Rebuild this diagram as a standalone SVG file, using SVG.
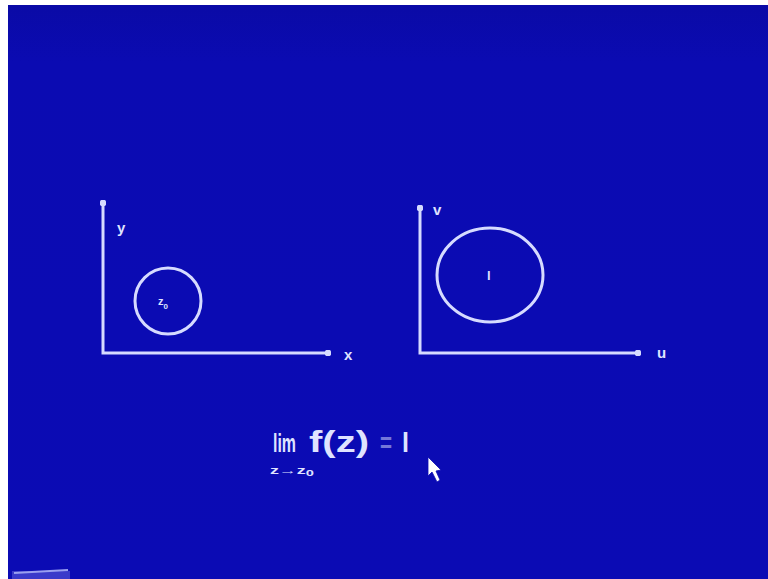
<svg xmlns="http://www.w3.org/2000/svg" width="768" height="579" viewBox="0 0 768 579">
<defs>
<style>
.ax{stroke:#d6dbff;stroke-width:3;fill:none;stroke-linecap:round}
.rg{stroke:#d6dbff;stroke-width:3;fill:none}
.lb{font-family:"Liberation Sans",Arial,sans-serif;font-weight:bold;fill:#dfe3ff}
</style>
<marker id="dot" viewBox="0 0 10 10" refX="5" refY="5" markerWidth="2.2" markerHeight="2.2" orient="auto"><circle cx="5" cy="5" r="5" fill="#d6dbff"/></marker>
<linearGradient id="bg" x1="0" y1="0" x2="0" y2="1"><stop offset="0" stop-color="#0a0aa6"/><stop offset="0.1" stop-color="#0b0bb2"/><stop offset="1" stop-color="#0b0bb4"/></linearGradient>
</defs>
<rect width="768" height="579" fill="#ffffff"/>
<rect x="8" y="5" width="760" height="574" fill="url(#bg)"/>
<g id="connectors">
<polyline class="ax" points="103,203 103,353 328,353" marker-start="url(#dot)" marker-end="url(#dot)"/>
<polyline class="ax" points="420,208 420,353 638,353" marker-start="url(#dot)" marker-end="url(#dot)"/>
</g>
<g id="z-plane">
<text class="lb" x="117" y="233" font-size="15">y</text>
<text class="lb" x="344" y="360" font-size="15">x</text>
<circle class="rg" cx="168" cy="301" r="33"/>
<text class="lb" x="158" y="305" font-size="11">z<tspan font-size="8" dy="4">0</tspan></text>
</g>
<g id="w-plane">
<text class="lb" x="433" y="215" font-size="15">v</text>
<text class="lb" x="657" y="358" font-size="15">u</text>
<ellipse class="rg" cx="490" cy="275" rx="53" ry="47"/>
<text class="lb" x="487" y="280" font-size="13">l</text>
</g>
<g id="formula">
<text class="lb" x="273" y="452" font-size="25" textLength="23" lengthAdjust="spacingAndGlyphs">lim</text>
<text class="lb" x="309" y="452" font-size="29" textLength="60" lengthAdjust="spacingAndGlyphs">f(z)</text>
<text class="lb" x="380" y="452" font-size="27" textLength="12" lengthAdjust="spacingAndGlyphs" fill-opacity="0.5">=</text>
<text class="lb" x="402" y="452" font-size="27" textLength="7" lengthAdjust="spacingAndGlyphs">l</text>
<text class="lb" x="270" y="474" font-size="11" textLength="44" lengthAdjust="spacingAndGlyphs">z→z<tspan font-size="9" dy="2">0</tspan></text>
</g>
<g id="cursor">
<path d="M428,457 L428,476 L432,472 L437,482 L440,480 L436,471 L441,470 Z" fill="#ffffff" stroke="#0b0bb4" stroke-width="0.8"/>
</g>
<g id="toolbar">
<rect x="12" y="571" width="58" height="8" fill="#5a5ad8" opacity="0.6"/>
<line x1="14" y1="573" x2="68" y2="570" stroke="#9aa0f0" stroke-width="2"/>
</g>
</svg>
